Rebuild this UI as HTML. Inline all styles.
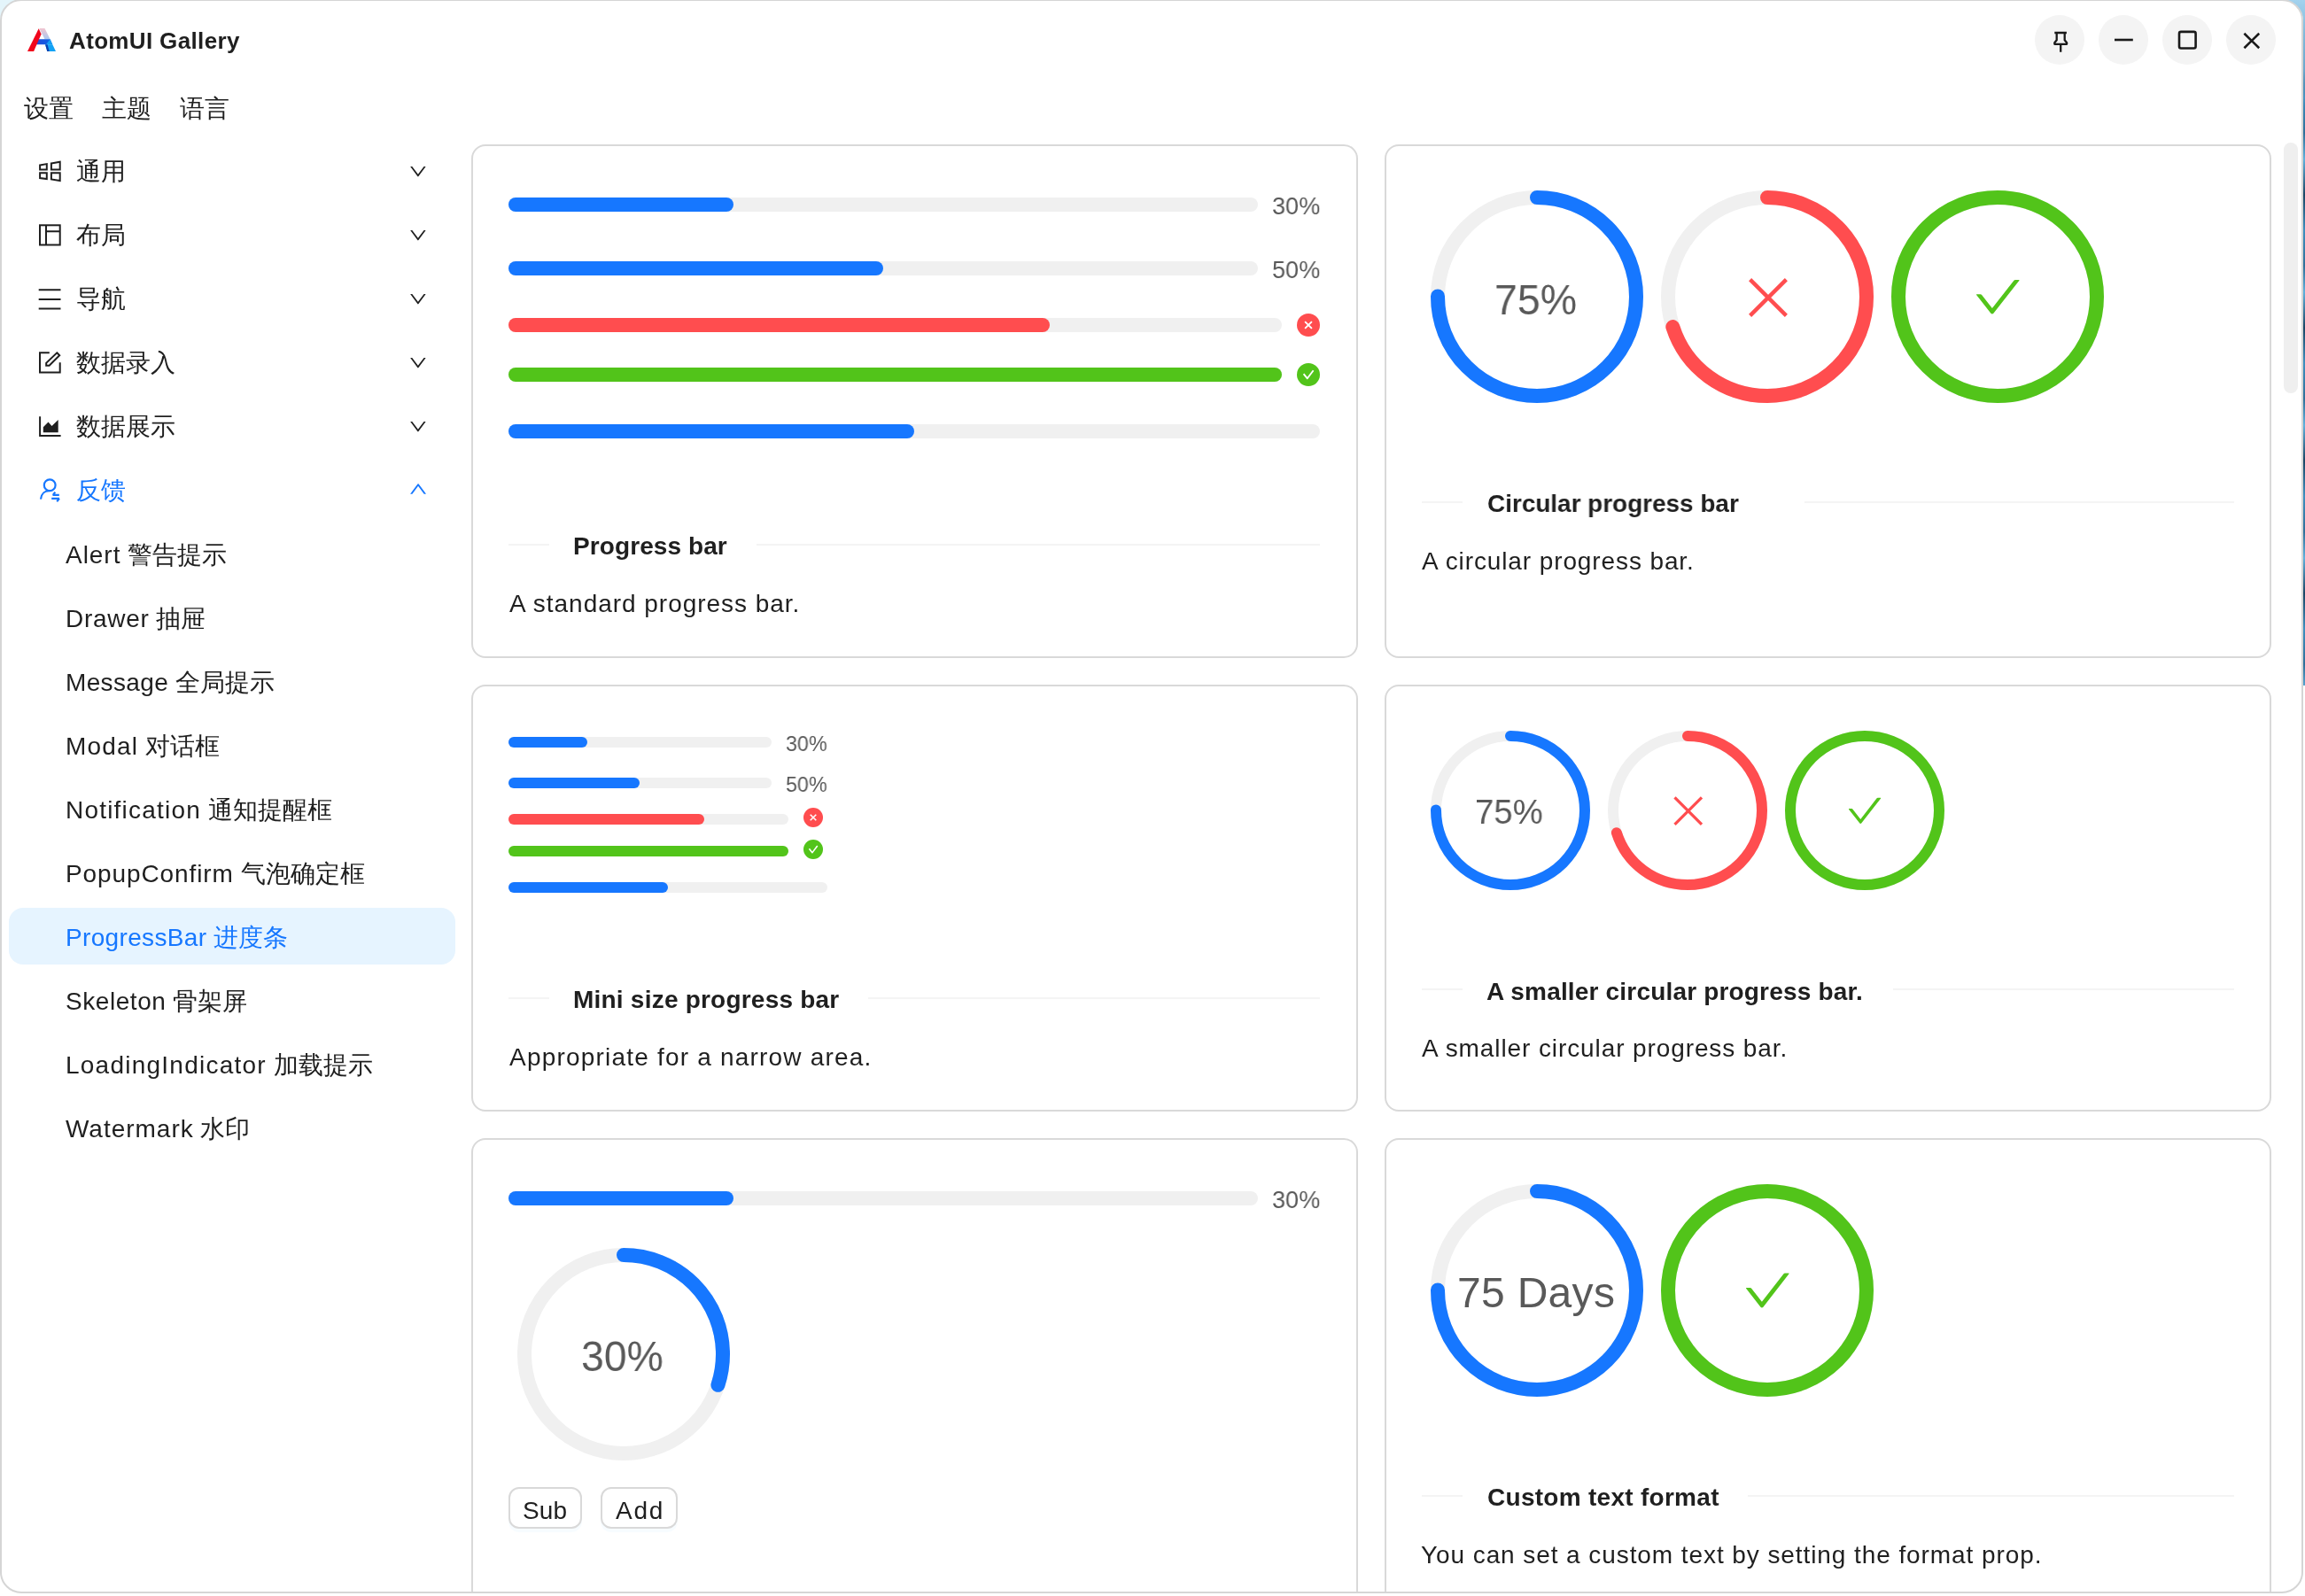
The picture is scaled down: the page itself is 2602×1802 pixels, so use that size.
<!DOCTYPE html><html><head><meta charset="utf-8"><style>
html,body{margin:0;padding:0;}
body{width:2602px;height:1802px;position:relative;overflow:hidden;background:#fff;font-family:"Liberation Sans", sans-serif;}
.a{position:absolute;}
.t{position:absolute;white-space:nowrap;will-change:transform;}
.card{box-sizing:border-box;border:2px solid #d9d9d9;border-radius:16px;background:#fff;}
</style></head><body>
<div class="a" style="left:0;top:0;width:40px;height:40px;background:#e4f5fb"></div>
<div class="a" style="left:2560px;top:0;width:42px;height:774px;background:linear-gradient(180deg,#a3d2ee 0px,#7fb8da 40px,#6aa6cc 80px,transparent 120px),repeating-linear-gradient(180deg,#2f6f99 0px,#5fb0dd 30px,#1b4665 70px,#3d8fc0 110px,#2f6f99 150px)"></div>
<div class="a" style="left:0;top:0;width:2600px;height:1799px;border-radius:24px;background:#fff;overflow:hidden" id="win">
<svg class="a" style="left:31px;top:32px" width="32" height="26" viewBox="0 0 32 26">
<defs><linearGradient id="lg1" x1="0" y1="0" x2="0" y2="1"><stop offset="0" stop-color="#f2c4cf"/><stop offset="1" stop-color="#a9c8f0"/></linearGradient>
<linearGradient id="lg2" x1="0" y1="0" x2="1" y2="0"><stop offset="0" stop-color="#2349d8"/><stop offset="1" stop-color="#0b63e6"/></linearGradient></defs>
<polygon points="13.3,0 19.5,0 25.6,12.3 19.5,12.3" fill="url(#lg1)"/>
<polygon points="10.6,12.3 25.6,12.3 28.3,18.3 8.0,18.3" fill="url(#lg2)"/>
<polygon points="21.0,18.3 25.6,12.3 28.3,18.3" fill="#169ff3"/>
<polygon points="20.1,18.3 28.3,18.3 32,26 22.3,26" fill="#12a2f5"/>
<polygon points="20.1,18.3 22.6,18.3 24.7,26 22.3,26" fill="#0c3fae"/>
<polygon points="0,26 7.1,26 15.6,6.6 12.7,0.2" fill="#f0061c"/>
</svg>
<div class="t" style="left:78.4px;top:32.7px;font-size:26px;line-height:26px;font-weight:700;color:#1f1f1f;letter-spacing:0.35px;">AtomUI Gallery</div>
<div class="a" style="left:2297px;top:17px;width:56px;height:56px;background:#f4f4f4;border-radius:28px;"></div>
<div class="a" style="left:2369px;top:17px;width:56px;height:56px;background:#f4f4f4;border-radius:28px;"></div>
<div class="a" style="left:2441px;top:17px;width:56px;height:56px;background:#f4f4f4;border-radius:28px;"></div>
<div class="a" style="left:2513px;top:17px;width:56px;height:56px;background:#f4f4f4;border-radius:28px;"></div>
<svg class="a" style="left:2300px;top:20px" width="280" height="50" viewBox="2300 20 280 50" fill="none" stroke="#1a1a1a" stroke-width="2.6"><path d="M2319.3 37 H2332.9 M2321.7 37 V45.2 L2319.3 48.2 V49.8 H2333.1 V48.2 L2330.7 45.2 V37 M2326.2 49.8 V58.8" stroke-width="2.3" stroke-linejoin="round"/><path d="M2387 45 H2407.8"/><rect x="2460" y="35.9" width="18.6" height="18.6" rx="2"/><path d="M2533.4 37.8 L2550.2 54.2 M2550.2 37.8 L2533.4 54.2"/></svg>
<div class="t" style="left:27px;top:109.3px;font-size:28px;line-height:28px;font-weight:400;color:#1f1f1f;letter-spacing:0px;">设置</div>
<div class="t" style="left:115px;top:109.3px;font-size:28px;line-height:28px;font-weight:400;color:#1f1f1f;letter-spacing:0px;">主题</div>
<div class="t" style="left:203px;top:109.3px;font-size:28px;line-height:28px;font-weight:400;color:#1f1f1f;letter-spacing:0px;">语言</div>
<div class="t" style="left:86px;top:180.2px;font-size:28px;line-height:28px;font-weight:400;color:#1f1f1f;letter-spacing:0px;">通用</div>
<svg class="a" style="left:0;top:0;overflow:visible" width="1" height="1"><path transform="translate(463.3 188.0) scale(0.02263 0.02227) translate(-132 -256)" d="M884 256h-75c-5.1 0-9.9 2.5-12.9 6.6L512 654.2 227.9 262.6c-3-4.1-7.8-6.6-12.9-6.6h-75c-6.5 0-10.3 7.4-6.5 12.7l352.6 486.1c12.8 17.6 39 17.6 51.7 0l352.6-486.1c3.9-5.3.1-12.7-6.4-12.7z" fill="#1f1f1f"/></svg>
<div class="t" style="left:86px;top:252.2px;font-size:28px;line-height:28px;font-weight:400;color:#1f1f1f;letter-spacing:0px;">布局</div>
<svg class="a" style="left:0;top:0;overflow:visible" width="1" height="1"><path transform="translate(463.3 260.0) scale(0.02263 0.02227) translate(-132 -256)" d="M884 256h-75c-5.1 0-9.9 2.5-12.9 6.6L512 654.2 227.9 262.6c-3-4.1-7.8-6.6-12.9-6.6h-75c-6.5 0-10.3 7.4-6.5 12.7l352.6 486.1c12.8 17.6 39 17.6 51.7 0l352.6-486.1c3.9-5.3.1-12.7-6.4-12.7z" fill="#1f1f1f"/></svg>
<div class="t" style="left:86px;top:324.2px;font-size:28px;line-height:28px;font-weight:400;color:#1f1f1f;letter-spacing:0px;">导航</div>
<svg class="a" style="left:0;top:0;overflow:visible" width="1" height="1"><path transform="translate(463.3 332.0) scale(0.02263 0.02227) translate(-132 -256)" d="M884 256h-75c-5.1 0-9.9 2.5-12.9 6.6L512 654.2 227.9 262.6c-3-4.1-7.8-6.6-12.9-6.6h-75c-6.5 0-10.3 7.4-6.5 12.7l352.6 486.1c12.8 17.6 39 17.6 51.7 0l352.6-486.1c3.9-5.3.1-12.7-6.4-12.7z" fill="#1f1f1f"/></svg>
<div class="t" style="left:86px;top:396.2px;font-size:28px;line-height:28px;font-weight:400;color:#1f1f1f;letter-spacing:0px;">数据录入</div>
<svg class="a" style="left:0;top:0;overflow:visible" width="1" height="1"><path transform="translate(463.3 404.0) scale(0.02263 0.02227) translate(-132 -256)" d="M884 256h-75c-5.1 0-9.9 2.5-12.9 6.6L512 654.2 227.9 262.6c-3-4.1-7.8-6.6-12.9-6.6h-75c-6.5 0-10.3 7.4-6.5 12.7l352.6 486.1c12.8 17.6 39 17.6 51.7 0l352.6-486.1c3.9-5.3.1-12.7-6.4-12.7z" fill="#1f1f1f"/></svg>
<div class="t" style="left:86px;top:468.2px;font-size:28px;line-height:28px;font-weight:400;color:#1f1f1f;letter-spacing:0px;">数据展示</div>
<svg class="a" style="left:0;top:0;overflow:visible" width="1" height="1"><path transform="translate(463.3 476.0) scale(0.02263 0.02227) translate(-132 -256)" d="M884 256h-75c-5.1 0-9.9 2.5-12.9 6.6L512 654.2 227.9 262.6c-3-4.1-7.8-6.6-12.9-6.6h-75c-6.5 0-10.3 7.4-6.5 12.7l352.6 486.1c12.8 17.6 39 17.6 51.7 0l352.6-486.1c3.9-5.3.1-12.7-6.4-12.7z" fill="#1f1f1f"/></svg>
<div class="t" style="left:86px;top:540.2px;font-size:28px;line-height:28px;font-weight:400;color:#1677ff;letter-spacing:0px;">反馈</div>
<svg class="a" style="left:0;top:0;overflow:visible" width="1" height="1"><path transform="translate(463.2 557.8) scale(0.02329 -0.02266) translate(-132 -256)" d="M884 256h-75c-5.1 0-9.9 2.5-12.9 6.6L512 654.2 227.9 262.6c-3-4.1-7.8-6.6-12.9-6.6h-75c-6.5 0-10.3 7.4-6.5 12.7l352.6 486.1c12.8 17.6 39 17.6 51.7 0l352.6-486.1c3.9-5.3.1-12.7-6.4-12.7z" fill="#1677ff"/></svg>
<svg class="a" style="left:40px;top:177.7px" width="32" height="32" viewBox="40 177.7 32 32" fill="none" stroke="#1f1f1f" stroke-width="2"><polygon points="45.1,186.1 52.8,184.79999999999998 52.8,191.2 45.1,191.2"/><polygon points="57.9,184.1 67.7,182.5 67.7,191.2 57.9,191.2"/><polygon points="45.1,195.0 52.8,195.0 52.8,201.79999999999998 45.1,200.79999999999998"/><polygon points="57.9,195.0 67.7,195.0 67.7,203.79999999999998 57.9,202.2"/></svg>
<svg class="a" style="left:40px;top:249.7px" width="32" height="32" viewBox="40 249.7 32 32" fill="none" stroke="#1f1f1f" stroke-width="2"><rect x="45" y="254" width="22.7" height="22.2"/><path d="M52 254 V276.2 M52 261 H67.7"/></svg>
<svg class="a" style="left:40px;top:321.7px" width="32" height="32" viewBox="40 321.7 32 32" fill="none" stroke="#1f1f1f" stroke-width="2"><path d="M43.7 327 H68.5 M43.7 337.6 H68.5 M43.7 348.3 H68.5"/></svg>
<svg class="a" style="left:40px;top:393.7px" width="32" height="32" viewBox="40 393.7 32 32" fill="none" stroke="#1f1f1f" stroke-width="2"><path d="M55.8 398 H45 V420.2 H67.7 V409"/><polygon points="64.3,398.0 67.2,400.9 55.6,412.4 52.2,412.4 52.2,409.6"/></svg>
<svg class="a" style="left:40px;top:465.7px" width="32" height="32" viewBox="40 465.7 32 32" fill="none" stroke="#1f1f1f" stroke-width="2"><path d="M45.1 470 V491.6 H68.6"/><polygon points="48.8,482 54.5,476.3 58.5,480.6 65.7,473.8 65.7,488 48.8,488" fill="#1f1f1f" stroke="none"/></svg>
<svg class="a" style="left:40px;top:537.7px" width="32" height="32" viewBox="40 537.7 32 32" fill="none" stroke="#1677ff" stroke-width="2"><circle cx="56.2" cy="547.5" r="6.4" stroke-width="2.2"/><path d="M46 563.3 C46.6 557.2 50.6 553.6 56.2 553.9" stroke-width="2.2"/><path d="M59.5 558.6 H66.8 M59.8 558.6 L62.3 555.3 M58.2 562.6 H67 M67 562.6 L64.2 565.9" stroke-width="2.2"/></svg>
<div class="a" style="left:10px;top:1025px;width:504px;height:64px;background:#e6f4ff;border-radius:16px;"></div>
<div class="t" style="left:74px;top:613.0px;font-size:28px;line-height:28px;color:#1f1f1f"><span style="letter-spacing:0.96px">Alert</span> 警告提示</div>
<div class="t" style="left:74px;top:685.0px;font-size:28px;line-height:28px;color:#1f1f1f"><span style="letter-spacing:0.733px">Drawer</span> 抽屉</div>
<div class="t" style="left:74px;top:757.0px;font-size:28px;line-height:28px;color:#1f1f1f"><span style="letter-spacing:0.357px">Message</span> 全局提示</div>
<div class="t" style="left:74px;top:829.0px;font-size:28px;line-height:28px;color:#1f1f1f"><span style="letter-spacing:1.18px">Modal</span> 对话框</div>
<div class="t" style="left:74px;top:901.0px;font-size:28px;line-height:28px;color:#1f1f1f"><span style="letter-spacing:1.208px">Notification</span> 通知提醒框</div>
<div class="t" style="left:74px;top:973.0px;font-size:28px;line-height:28px;color:#1f1f1f"><span style="letter-spacing:0.9px">PopupConfirm</span> 气泡确定框</div>
<div class="t" style="left:74px;top:1045.0px;font-size:28px;line-height:28px;color:#1677ff"><span style="letter-spacing:0.336px">ProgressBar</span> 进度条</div>
<div class="t" style="left:74px;top:1117.0px;font-size:28px;line-height:28px;color:#1f1f1f"><span style="letter-spacing:0.562px">Skeleton</span> 骨架屏</div>
<div class="t" style="left:74px;top:1189.0px;font-size:28px;line-height:28px;color:#1f1f1f"><span style="letter-spacing:1.238px">LoadingIndicator</span> 加载提示</div>
<div class="t" style="left:74px;top:1261.0px;font-size:28px;line-height:28px;color:#1f1f1f"><span style="letter-spacing:0.978px">Watermark</span> 水印</div>
<div class="a card" style="left:532px;top:163px;width:1001px;height:580px"></div>
<div class="a card" style="left:1563px;top:163px;width:1001px;height:580px"></div>
<div class="a card" style="left:532px;top:773px;width:1001px;height:482px"></div>
<div class="a card" style="left:1563px;top:773px;width:1001px;height:482px"></div>
<div class="a card" style="left:532px;top:1285px;width:1001px;height:615px"></div>
<div class="a card" style="left:1563px;top:1285px;width:1001px;height:615px"></div>
<div class="a" style="left:574px;top:223px;width:846px;height:16px;background:#f0f0f0;border-radius:8.0px;"></div>
<div class="a" style="left:574px;top:223px;width:253.79999999999995px;height:16px;background:#1677ff;border-radius:8.0px;"></div>
<div class="t" style="left:1436.4px;top:219.2px;font-size:28px;line-height:28px;font-weight:400;color:#595959;letter-spacing:0.0px;transform:scaleX(0.9667);transform-origin:0 0;">30%</div>
<div class="a" style="left:574px;top:295px;width:846px;height:16px;background:#f0f0f0;border-radius:8.0px;"></div>
<div class="a" style="left:574px;top:295px;width:423.0px;height:16px;background:#1677ff;border-radius:8.0px;"></div>
<div class="t" style="left:1436.4px;top:291.0px;font-size:28px;line-height:28px;font-weight:400;color:#595959;letter-spacing:0.0px;transform:scaleX(0.9667);transform-origin:0 0;">50%</div>
<div class="a" style="left:574px;top:359px;width:873px;height:16px;background:#f0f0f0;border-radius:8.0px;"></div>
<div class="a" style="left:574px;top:359px;width:611.0999999999999px;height:16px;background:#ff4d4f;border-radius:8.0px;"></div>
<svg class="a" style="left:1464.0px;top:353.8px" width="26" height="26" viewBox="0 0 26 26"><circle cx="13" cy="13" r="13" fill="#ff4d4f"/><path d="M9.1 9.1 L16.9 16.9 M16.9 9.1 L9.1 16.9" stroke="#fff" stroke-width="1.9" fill="none"/></svg>
<div class="a" style="left:574px;top:415px;width:873px;height:16px;background:#f0f0f0;border-radius:8.0px;"></div>
<div class="a" style="left:574px;top:415px;width:873.0px;height:16px;background:#52c41a;border-radius:8.0px;"></div>
<svg class="a" style="left:1464.0px;top:409.8px" width="26" height="26" viewBox="0 0 26 26"><circle cx="13" cy="13" r="13" fill="#52c41a"/><path d="M7.6 12.1 L11.8 17.3 L18.6 8.3" stroke="#fff" stroke-width="1.9" fill="none" stroke-linejoin="round"/></svg>
<div class="a" style="left:574px;top:479px;width:916px;height:16px;background:#f0f0f0;border-radius:8.0px;"></div>
<div class="a" style="left:574px;top:479px;width:458.0px;height:16px;background:#1677ff;border-radius:8.0px;"></div>
<div class="a" style="left:574px;top:614px;width:46px;height:2px;background:#f4f4f4;border-radius:0px;"></div>
<div class="a" style="left:854px;top:614px;width:636px;height:2px;background:#f4f4f4;border-radius:0px;"></div>
<div class="t" style="left:647.0px;top:603.2px;font-size:28px;line-height:28px;font-weight:700;color:#1f1f1f;letter-spacing:0.09px;">Progress bar</div>
<div class="t" style="left:574.6px;top:668.0px;font-size:28px;line-height:28px;font-weight:400;color:#1f1f1f;letter-spacing:0.97px;">A standard progress bar.</div>
<svg class="a" style="left:1615.0px;top:215.0px" width="240" height="240" viewBox="0 0 240 240"><circle cx="120.0" cy="120.0" r="112.0" fill="none" stroke="#f0f0f0" stroke-width="16"/><circle cx="120.0" cy="120.0" r="112.0" fill="none" stroke="#1677ff" stroke-width="16" stroke-linecap="round" stroke-dasharray="527.788 703.717" transform="rotate(-90 120.0 120.0)"/></svg>
<div class="t" style="left:1687.1px;top:314.7px;font-size:48px;line-height:48px;font-weight:400;color:#595959;letter-spacing:0.0px;transform:scaleX(0.9677);transform-origin:0 0;">75%</div>
<svg class="a" style="left:1875.0px;top:215.0px" width="240" height="240" viewBox="0 0 240 240"><circle cx="120.0" cy="120.0" r="112.0" fill="none" stroke="#f0f0f0" stroke-width="16"/><circle cx="120.0" cy="120.0" r="112.0" fill="none" stroke="#ff4d4f" stroke-width="16" stroke-linecap="round" stroke-dasharray="492.602 703.717" transform="rotate(-90 120.0 120.0)"/></svg>
<svg class="a" style="left:0;top:0;overflow:visible" width="1" height="1"><path d="M1975.6 315.6 L2016.4 356.4 M2016.4 315.6 L1975.6 356.4" stroke="#ff4d4f" stroke-width="4.4" fill="none" stroke-linecap="butt"/></svg>
<svg class="a" style="left:2135.0px;top:215.0px" width="240" height="240" viewBox="0 0 240 240"><circle cx="120.0" cy="120.0" r="112.0" fill="none" stroke="#f0f0f0" stroke-width="16"/><circle cx="120.0" cy="120.0" r="112.0" fill="none" stroke="#52c41a" stroke-width="16"/></svg>
<svg class="a" style="left:0;top:0;overflow:visible" width="1" height="1"><path transform="translate(2231.0 316.1) scale(0.05943 0.05949) translate(-103.984 -190.0)" d="M912 190h-69.9c-9.8 0-19.1 4.5-25.1 12.2L404.7 724.5 207 474a32 32 0 00-25.1-12.2H112c-6.7 0-10.4 7.7-6.3 12.9l273.9 347c12.8 16.2 37.4 16.2 50.3 0l488.4-618.9c4.1-5.1.4-12.8-6.3-12.8z" fill="#52c41a"/></svg>
<div class="a" style="left:1605px;top:566px;width:46px;height:2px;background:#f4f4f4;border-radius:0px;"></div>
<div class="a" style="left:2037px;top:566px;width:485px;height:2px;background:#f4f4f4;border-radius:0px;"></div>
<div class="t" style="left:1679.0px;top:555.0px;font-size:28px;line-height:28px;font-weight:700;color:#1f1f1f;letter-spacing:0.0px;transform:scaleX(0.9965);transform-origin:0 0;">Circular progress bar</div>
<div class="t" style="left:1605.0px;top:620.0px;font-size:28px;line-height:28px;font-weight:400;color:#1f1f1f;letter-spacing:0.89px;">A circular progress bar.</div>
<div class="a" style="left:574px;top:832px;width:296.5px;height:12px;background:#f0f0f0;border-radius:6.0px;"></div>
<div class="a" style="left:574px;top:832px;width:88.95000000000005px;height:12px;background:#1677ff;border-radius:6.0px;"></div>
<div class="t" style="left:887.0px;top:828.0px;font-size:24px;line-height:24px;font-weight:400;color:#595959;letter-spacing:0.0px;transform:scaleX(0.9717);transform-origin:0 0;">30%</div>
<div class="a" style="left:574px;top:878px;width:296.5px;height:12px;background:#f0f0f0;border-radius:6.0px;"></div>
<div class="a" style="left:574px;top:878px;width:148.25px;height:12px;background:#1677ff;border-radius:6.0px;"></div>
<div class="t" style="left:887.0px;top:874.0px;font-size:24px;line-height:24px;font-weight:400;color:#595959;letter-spacing:0.0px;transform:scaleX(0.9717);transform-origin:0 0;">50%</div>
<div class="a" style="left:574px;top:919px;width:316px;height:12px;background:#f0f0f0;border-radius:6.0px;"></div>
<div class="a" style="left:574px;top:919px;width:221.20000000000005px;height:12px;background:#ff4d4f;border-radius:6.0px;"></div>
<svg class="a" style="left:907.0px;top:912.2px" width="22" height="22" viewBox="0 0 26 26"><circle cx="13" cy="13" r="13" fill="#ff4d4f"/><path d="M9.1 9.1 L16.9 16.9 M16.9 9.1 L9.1 16.9" stroke="#fff" stroke-width="1.9" fill="none"/></svg>
<div class="a" style="left:574px;top:955px;width:316px;height:12px;background:#f0f0f0;border-radius:6.0px;"></div>
<div class="a" style="left:574px;top:955px;width:316.0px;height:12px;background:#52c41a;border-radius:6.0px;"></div>
<svg class="a" style="left:907.0px;top:948.2px" width="22" height="22" viewBox="0 0 26 26"><circle cx="13" cy="13" r="13" fill="#52c41a"/><path d="M7.6 12.1 L11.8 17.3 L18.6 8.3" stroke="#fff" stroke-width="1.9" fill="none" stroke-linejoin="round"/></svg>
<div class="a" style="left:574px;top:996px;width:360px;height:12px;background:#f0f0f0;border-radius:6.0px;"></div>
<div class="a" style="left:574px;top:996px;width:180.0px;height:12px;background:#1677ff;border-radius:6.0px;"></div>
<div class="a" style="left:574px;top:1126px;width:46px;height:2px;background:#f4f4f4;border-radius:0px;"></div>
<div class="a" style="left:980px;top:1126px;width:510px;height:2px;background:#f4f4f4;border-radius:0px;"></div>
<div class="t" style="left:646.8px;top:1114.9px;font-size:28px;line-height:28px;font-weight:700;color:#1f1f1f;letter-spacing:0.22px;">Mini size progress bar</div>
<div class="t" style="left:574.6px;top:1180.0px;font-size:28px;line-height:28px;font-weight:400;color:#1f1f1f;letter-spacing:1.2px;">Appropriate for a narrow area.</div>
<svg class="a" style="left:1615.0px;top:825.0px" width="180" height="180" viewBox="0 0 180 180"><circle cx="90.0" cy="90.0" r="84.0" fill="none" stroke="#f0f0f0" stroke-width="12"/><circle cx="90.0" cy="90.0" r="84.0" fill="none" stroke="#1677ff" stroke-width="12" stroke-linecap="round" stroke-dasharray="395.841 527.788" transform="rotate(-90 90.0 90.0)"/></svg>
<div class="t" style="left:1665.4px;top:897.3px;font-size:39px;line-height:39px;font-weight:400;color:#595959;letter-spacing:0.0px;transform:scaleX(0.9813);transform-origin:0 0;">75%</div>
<svg class="a" style="left:1815.0px;top:825.0px" width="180" height="180" viewBox="0 0 180 180"><circle cx="90.0" cy="90.0" r="84.0" fill="none" stroke="#f0f0f0" stroke-width="12"/><circle cx="90.0" cy="90.0" r="84.0" fill="none" stroke="#ff4d4f" stroke-width="12" stroke-linecap="round" stroke-dasharray="369.451 527.788" transform="rotate(-90 90.0 90.0)"/></svg>
<svg class="a" style="left:0;top:0;overflow:visible" width="1" height="1"><path d="M1890.5 900.3 L1921.0 930.8 M1921.0 900.3 L1890.5 930.8" stroke="#ff4d4f" stroke-width="3.3" fill="none" stroke-linecap="butt"/></svg>
<svg class="a" style="left:2015.0px;top:825.0px" width="180" height="180" viewBox="0 0 180 180"><circle cx="90.0" cy="90.0" r="84.0" fill="none" stroke="#f0f0f0" stroke-width="12"/><circle cx="90.0" cy="90.0" r="84.0" fill="none" stroke="#52c41a" stroke-width="12"/></svg>
<svg class="a" style="left:0;top:0;overflow:visible" width="1" height="1"><path transform="translate(2086.9 900.8) scale(0.04448 0.04520) translate(-103.984 -190.0)" d="M912 190h-69.9c-9.8 0-19.1 4.5-25.1 12.2L404.7 724.5 207 474a32 32 0 00-25.1-12.2H112c-6.7 0-10.4 7.7-6.3 12.9l273.9 347c12.8 16.2 37.4 16.2 50.3 0l488.4-618.9c4.1-5.1.4-12.8-6.3-12.8z" fill="#52c41a"/></svg>
<div class="a" style="left:1605px;top:1116px;width:46px;height:2px;background:#f4f4f4;border-radius:0px;"></div>
<div class="a" style="left:2137px;top:1116px;width:385px;height:2px;background:#f4f4f4;border-radius:0px;"></div>
<div class="t" style="left:1678.4px;top:1105.6px;font-size:28px;line-height:28px;font-weight:700;color:#1f1f1f;letter-spacing:0.18px;">A smaller circular progress bar.</div>
<div class="t" style="left:1605.0px;top:1169.5px;font-size:28px;line-height:28px;font-weight:400;color:#1f1f1f;letter-spacing:0.9px;">A smaller circular progress bar.</div>
<div class="a" style="left:574px;top:1345px;width:846px;height:16px;background:#f0f0f0;border-radius:8.0px;"></div>
<div class="a" style="left:574px;top:1345px;width:253.79999999999995px;height:16px;background:#1677ff;border-radius:8.0px;"></div>
<div class="t" style="left:1436.4px;top:1341.2px;font-size:28px;line-height:28px;font-weight:400;color:#595959;letter-spacing:0.0px;transform:scaleX(0.9667);transform-origin:0 0;">30%</div>
<svg class="a" style="left:584.0px;top:1409.0px" width="240" height="240" viewBox="0 0 240 240"><circle cx="120.0" cy="120.0" r="112.0" fill="none" stroke="#f0f0f0" stroke-width="16"/><circle cx="120.0" cy="120.0" r="112.0" fill="none" stroke="#1677ff" stroke-width="16" stroke-linecap="round" stroke-dasharray="211.115 703.717" transform="rotate(-90 120.0 120.0)"/></svg>
<div class="t" style="left:656.4px;top:1508.0px;font-size:48px;line-height:48px;font-weight:400;color:#595959;letter-spacing:0.0px;transform:scaleX(0.9645);transform-origin:0 0;">30%</div>
<div class="a" style="left:574px;top:1679px;width:83px;height:47px;box-sizing:border-box;border:2px solid #d9d9d9;border-radius:12px;background:#fff;box-shadow:0 4px 0 rgba(5,145,255,0.03)"></div>
<div class="a" style="left:678px;top:1679px;width:87px;height:47px;box-sizing:border-box;border:2px solid #d9d9d9;border-radius:12px;background:#fff;box-shadow:0 4px 0 rgba(5,145,255,0.03)"></div>
<div class="t" style="left:590.0px;top:1691.8px;font-size:28px;line-height:28px;font-weight:400;color:#1f1f1f;letter-spacing:0.1px;">Sub</div>
<div class="t" style="left:694.6px;top:1691.8px;font-size:28px;line-height:28px;font-weight:400;color:#1f1f1f;letter-spacing:1.75px;">Add</div>
<svg class="a" style="left:1615.0px;top:1336.6px" width="240" height="240" viewBox="0 0 240 240"><circle cx="120.0" cy="120.0" r="112.0" fill="none" stroke="#f0f0f0" stroke-width="16"/><circle cx="120.0" cy="120.0" r="112.0" fill="none" stroke="#1677ff" stroke-width="16" stroke-linecap="round" stroke-dasharray="527.788 703.717" transform="rotate(-90 120.0 120.0)"/></svg>
<div class="t" style="left:1645.0px;top:1435.7px;font-size:48px;line-height:48px;font-weight:400;color:#595959;letter-spacing:0.3px;">75 Days</div>
<svg class="a" style="left:1875.0px;top:1336.6px" width="240" height="240" viewBox="0 0 240 240"><circle cx="120.0" cy="120.0" r="112.0" fill="none" stroke="#f0f0f0" stroke-width="16"/><circle cx="120.0" cy="120.0" r="112.0" fill="none" stroke="#52c41a" stroke-width="16"/></svg>
<svg class="a" style="left:0;top:0;overflow:visible" width="1" height="1"><path transform="translate(1971.0 1437.6) scale(0.05956 0.06026) translate(-103.984 -190.0)" d="M912 190h-69.9c-9.8 0-19.1 4.5-25.1 12.2L404.7 724.5 207 474a32 32 0 00-25.1-12.2H112c-6.7 0-10.4 7.7-6.3 12.9l273.9 347c12.8 16.2 37.4 16.2 50.3 0l488.4-618.9c4.1-5.1.4-12.8-6.3-12.8z" fill="#52c41a"/></svg>
<div class="a" style="left:1605px;top:1688px;width:46px;height:2px;background:#f4f4f4;border-radius:0px;"></div>
<div class="a" style="left:1973px;top:1688px;width:549px;height:2px;background:#f4f4f4;border-radius:0px;"></div>
<div class="t" style="left:1679.2px;top:1676.8px;font-size:28px;line-height:28px;font-weight:700;color:#1f1f1f;letter-spacing:0.28px;">Custom text format</div>
<div class="t" style="left:1604.0px;top:1741.5px;font-size:28px;line-height:28px;font-weight:400;color:#1f1f1f;letter-spacing:0.92px;">You can set a custom text by setting the format prop.</div>
<div class="a" style="left:2578px;top:161px;width:16px;height:283px;background:#efefef;border-radius:8px;"></div>
</div>
<div class="a" style="left:0;top:-1px;width:2600px;height:1800px;box-sizing:border-box;border:2px solid #d5d5d5;border-radius:24px;"></div>
</body></html>
